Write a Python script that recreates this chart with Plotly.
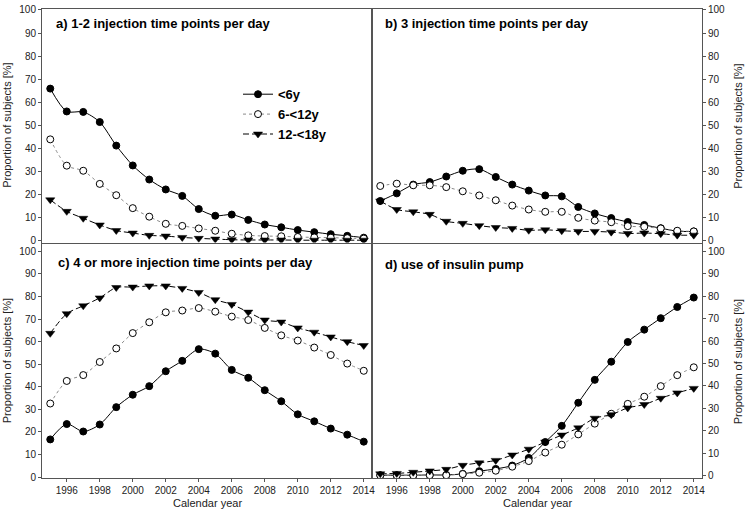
import plotly.graph_objects as go

years = list(range(1995, 2015))
x_ticks = list(range(1996, 2015, 2))
y_ticks = list(range(0, 101, 10))
group_names = ["<6y", "6-<12y", "12-<18y"]
panel_titles = [
    "a) 1-2 injection time points per day",
    "b) 3 injection time points per day",
    "c) 4 or more injection time points per day",
    "d) use of insulin pump",
]

# a) 1-2 injection time points per day
a_lt6 = [65.9, 56.0, 55.8, 51.4, 41.2, 32.6, 26.5, 22.2, 19.4, 13.7, 10.8, 11.3, 9.0, 7.0, 5.8, 4.6, 3.7, 2.8, 2.1, 1.3]
a_6_12 = [43.9, 32.5, 30.3, 24.6, 19.7, 14.1, 10.4, 7.3, 6.4, 5.3, 4.3, 3.0, 2.3, 2.0, 1.9, 1.6, 1.4, 1.3, 1.1, 0.9]
a_12_18 = [17.7, 12.7, 9.7, 6.8, 4.4, 3.3, 2.3, 2.0, 1.4, 1.0, 0.7, 0.4, 0.3, 0.3, 0.3, 0.2, 0.2, 0.2, 0.2, 0.2]

# b) 3 injection time points per day
b_lt6 = [17.2, 20.5, 24.3, 25.4, 27.8, 30.3, 31.0, 27.6, 24.3, 21.7, 19.6, 19.2, 14.6, 11.8, 9.8, 8.1, 6.8, 5.4, 4.1, 4.0]
b_6_12 = [23.7, 24.7, 24.0, 24.0, 23.2, 21.4, 19.6, 17.5, 15.2, 13.5, 12.5, 12.5, 9.9, 8.7, 8.0, 6.3, 6.0, 5.3, 4.3, 4.0]
b_12_18 = [17.2, 13.5, 12.5, 11.4, 8.4, 7.5, 6.5, 5.7, 5.3, 4.5, 4.7, 4.3, 4.0, 4.0, 3.7, 3.1, 3.3, 3.0, 2.4, 2.4]

# c) 4 or more injection time points per day
c_lt6 = [16.7, 23.5, 20.2, 23.3, 31.0, 36.5, 40.3, 46.9, 51.5, 56.7, 54.7, 47.5, 44.0, 38.5, 33.6, 27.8, 24.7, 21.5, 18.8, 15.7]
c_6_12 = [32.6, 42.6, 45.2, 51.0, 57.0, 63.8, 68.6, 73.0, 73.8, 74.9, 73.3, 71.1, 69.6, 66.1, 62.8, 60.5, 57.4, 54.1, 50.3, 47.1]
c_12_18 = [63.7, 72.4, 75.9, 79.4, 84.0, 84.2, 84.7, 84.7, 83.6, 81.8, 78.6, 76.5, 73.1, 69.6, 68.7, 66.1, 64.2, 62.1, 60.0, 58.3]

# d) use of insulin pump
d_lt6 = [0.2, 0.2, 0.2, 0.3, 0.3, 0.8, 2.0, 3.0, 4.5, 7.9, 15.0, 22.2, 32.5, 42.7, 50.8, 59.6, 65.1, 70.2, 75.2, 79.4]
d_6_12 = [0.1, 0.1, 0.1, 0.2, 0.2, 0.7, 1.3, 2.2, 4.0, 6.5, 10.3, 13.8, 18.4, 23.2, 27.6, 32.0, 35.2, 39.9, 44.8, 48.3]
d_12_18 = [0.8, 1.0, 1.5, 2.1, 2.8, 4.6, 5.7, 6.8, 9.2, 11.8, 15.0, 18.1, 21.3, 25.6, 27.2, 30.2, 31.7, 34.5, 36.9, 38.9]

panels = [
    (a_lt6, a_6_12, a_12_18),
    (b_lt6, b_6_12, b_12_18),
    (c_lt6, c_6_12, c_12_18),
    (d_lt6, d_6_12, d_12_18),
]

W, H = 747, 517
ML, MR, MT, MB = 42, 45, 4, 39
PW = W - ML - MR
PH = H - MT - MB

def px_x(p):
    return (p - ML) / PW

def px_y(p):
    return (H - MB - p) / PH

FONT = "Arial, Liberation Sans, sans-serif"
AXC = "#555555"
TXT = "#222222"

styles = [
    dict(line=dict(color="black", width=1, dash="solid", shape="spline", smoothing=0.8),
         marker=dict(symbol="circle", size=7, color="black", line=dict(color="black", width=1))),
    dict(line=dict(color="#8a8a8a", width=1, dash="dot", shape="spline", smoothing=0.8),
         marker=dict(symbol="circle", size=7, color="white", line=dict(color="black", width=1))),
    dict(line=dict(color="black", width=1, dash="6px,3px", shape="spline", smoothing=0.8),
         marker=dict(symbol="triangle-down", size=8, color="black", line=dict(color="black", width=0.5))),
]

fig = go.Figure()
axis_ids = ["", "2", "3", "4"]
for pi, series in enumerate(panels):
    aid = axis_ids[pi]
    for si, vals in enumerate(series):
        fig.add_trace(go.Scatter(
            x=years, y=vals, mode="lines+markers", name=group_names[si],
            xaxis="x" + aid, yaxis="y" + aid,
            line=styles[si]["line"], marker=styles[si]["marker"],
            showlegend=(pi == 0), legendgroup=group_names[si],
        ))

x_left = [0, px_x(372)]
x_right = [px_x(372), 1]
y_top = [px_y(240), 1]
y_bot = [0, px_y(241)]

xr = [1994.5, 2014.5]
common_x = dict(range=xr, showline=True, linecolor=AXC, linewidth=1, mirror=True,
                showgrid=False, zeroline=False, tickvals=x_ticks,
                tickfont=dict(family=FONT, size=10, color=TXT))
common_y = dict(showline=True, linecolor=AXC, linewidth=1, mirror=True,
                showgrid=False, zeroline=False, tickvals=y_ticks,
                ticks="outside", ticklen=3, tickcolor=AXC, ticklabeloverflow="allow",
                tickfont=dict(family=FONT, size=10, color=TXT))

layout = dict(
    width=W, height=H, margin=dict(l=ML, r=MR, t=MT, b=MB),
    paper_bgcolor="white", plot_bgcolor="white",
    font=dict(family=FONT, color=TXT),
    xaxis=dict(common_x, domain=x_left, anchor="y", showticklabels=False, ticks=""),
    xaxis2=dict(common_x, domain=x_right, anchor="y2", showticklabels=False, ticks=""),
    xaxis3=dict(common_x, domain=x_left, anchor="y3", ticks="outside", ticklen=3, tickcolor=AXC),
    xaxis4=dict(common_x, domain=x_right, anchor="y4", ticks="outside", ticklen=3, tickcolor=AXC),
    yaxis=dict(common_y, domain=y_top, anchor="x", range=[-0.8, 100.4], side="left"),
    yaxis2=dict(common_y, domain=y_top, anchor="x2", range=[-0.8, 100.4], side="right"),
    yaxis3=dict(common_y, domain=y_bot, anchor="x3", range=[-0.4, 103.5], side="left"),
    yaxis4=dict(common_y, domain=y_bot, anchor="x4", range=[-1.05, 103.5], side="right"),
    legend=dict(x=px_x(238), y=px_y(75), xanchor="left", yanchor="top",
                bgcolor="rgba(0,0,0,0)", borderwidth=0, tracegroupgap=0,
                font=dict(family=FONT, size=13, color="black", weight="bold")),
    showlegend=True,
)
fig.update_layout(**layout)

ann = []
title_pos = [(54, 18.3), (383.3, 18.3), (56, 260.7), (383.3, 262.7)]
for t, (tx, ty) in zip(panel_titles, title_pos):
    ann.append(dict(text="<b>" + t + "</b>", x=px_x(tx), y=px_y(ty), xref="paper", yref="paper",
                    xanchor="left", yanchor="middle", showarrow=False,
                    font=dict(family=FONT, size=13, color="black")))
ytitle = "Proportion of subjects [%]"
for (tx, ty) in [(7, 122), (7, 360), (738, 122), (738, 360)]:
    ann.append(dict(text=ytitle, x=px_x(tx), y=px_y(ty), xref="paper", yref="paper",
                    xanchor="center", yanchor="middle", textangle=-90, showarrow=False,
                    font=dict(family=FONT, size=11, color=TXT)))
for tx in [207, 537]:
    ann.append(dict(text="Calendar year", x=px_x(tx), y=px_y(503), xref="paper", yref="paper",
                    xanchor="center", yanchor="middle", showarrow=False,
                    font=dict(family=FONT, size=11, color=TXT)))
fig.update_layout(annotations=ann)

fig.write_html("out.html", config={"displayModeBar": False},
               post_script="document.body.style.margin='0px';")
